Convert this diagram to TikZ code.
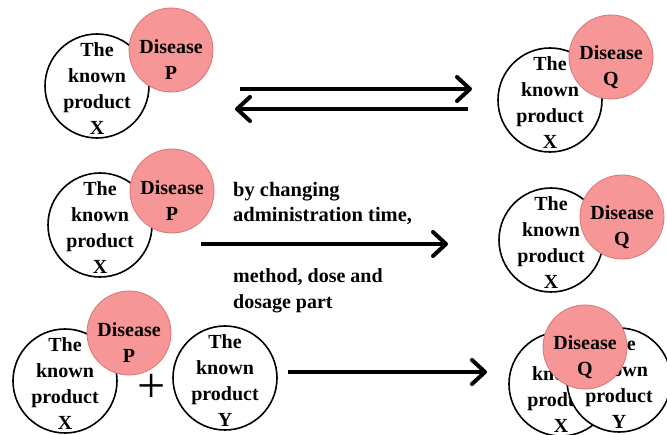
\documentclass[tikz,border=0pt]{standalone}
\usepackage{fontspec}
\setmainfont{Liberation Serif}
\usepackage{tikz}
\usetikzlibrary{arrows.meta}
\definecolor{DiseasePink}{RGB}{247,150,150}
\definecolor{DiseaseEdge}{RGB}{214,118,118}
\tikzset{
  product/.style={circle,draw=black,line width=1.6pt,fill=white,minimum size=104pt,inner sep=0pt},
  disease/.style={circle,draw=DiseaseEdge,line width=0.8pt,fill=DiseasePink,minimum size=84pt,inner sep=0pt},
  lbl/.style={font=\bfseries\fontsize{20}{26}\selectfont,align=center,inner sep=0pt},
  flow/.style={->,line width=4pt}
}
\begin{document}
\begin{tikzpicture}[x=1pt,y=-1pt,>={Straight Barb[length=13pt,width=24pt,round]}]
  \useasboundingbox (0,0) rectangle (667,435);

  % erste Zeile: X bei P, hin und zurueck zu X bei Q
  \node[product] (prodX1) at (97,86) {};
  \node[lbl] (txtX1) at (97,89) {The\\known\\product\\X};
  \node[disease] (disP1) at (171,50) {};
  \node[lbl] (txtP1) at (171,60) {Disease\\P};

  \coordinate (fwdA) at (240,89);
  \coordinate (fwdB) at (472,89);
  \coordinate (bckA) at (468,109);
  \coordinate (bckB) at (235,109);
  \draw[flow] (fwdA) -- (fwdB);
  \draw[flow] (bckA) -- (bckB);

  \node[product] (prodX2) at (550,100) {};
  \node[lbl] (txtX2) at (550,103) {The\\known\\product\\X};
  \node[disease] (disQ1) at (611,57) {};
  \node[lbl] (txtQ1) at (611,67) {Disease\\Q};

  % zweite Zeile: Aenderung der Anwendung
  \node[product] (prodX3) at (100,225) {};
  \node[lbl] (txtX3) at (100,228) {The\\known\\product\\X};
  \node[disease] (disP2) at (172,191) {};
  \node[lbl] (txtP2) at (172,201) {Disease\\P};

  \coordinate (midA) at (201,244);
  \coordinate (midB) at (448,244);
  \draw[flow] (midA) -- (midB);
  \node[lbl,align=left,anchor=north west,font=\bfseries\fontsize{20.5}{25}\selectfont] (wayUp) at (233,182) {by changing\\administration time,};
  \node[lbl,align=left,anchor=north west] (wayDown) at (233,268) {method, dose and\\dosage part};

  \node[product] (prodX4) at (551,240) {};
  \node[lbl] (txtX4) at (551,243) {The\\known\\product\\X};
  \node[disease] (disQ2) at (622,217) {};
  \node[lbl] (txtQ2) at (622,227) {Disease\\Q};

  % dritte Zeile: X plus Y
  \node[product] (prodX5) at (65,381) {};
  \node[lbl] (txtX5) at (65,384) {The\\known\\product\\X};
  \node[disease] (disP3) at (129,333) {};
  \node[lbl] (txtP3) at (129,343) {Disease\\P};
  \node[inner sep=0pt,font=\fontsize{50}{50}\selectfont] (plus) at (152,388) {+};
  \node[product] (prodY1) at (225,378) {};
  \node[lbl] (txtY1) at (225,381) {The\\known\\product\\Y};

  \coordinate (lowA) at (288,372);
  \coordinate (lowB) at (487,372);
  \draw[flow] (lowA) -- (lowB);

  \node[product] (prodX6) at (561,384) {};
  \node[lbl] (txtX6) at (561,387) {The\\known\\product\\X};
  \node[product] (prodY2) at (619,380) {};
  \node[lbl] (txtY2) at (619,383) {The\\known\\product\\Y};
  \node[disease] (disQ3) at (585,347) {};
  \node[lbl] (txtQ3) at (585,357) {Disease\\Q};
\end{tikzpicture}
\end{document}
